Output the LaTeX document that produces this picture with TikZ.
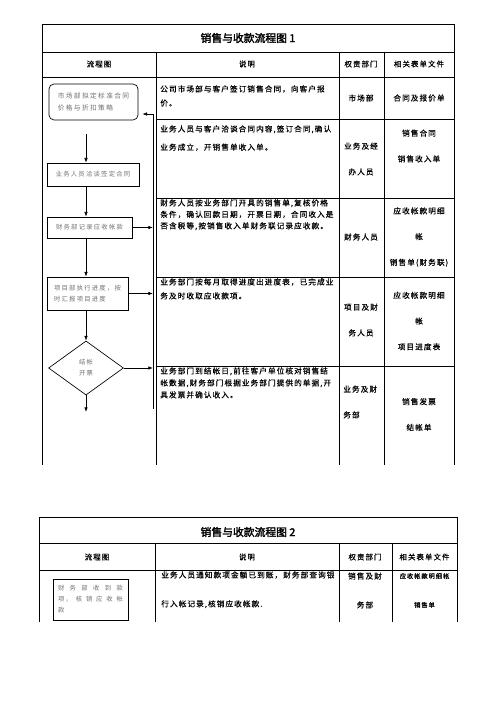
\documentclass[tikz,border=0pt]{standalone}
\usepackage{fontspec}
\usepackage{tikz}
\usetikzlibrary{arrows.meta,positioning,calc,shapes.geometric}
\newfontfamily\hei[LetterSpace=14,FakeBold=0.4]{Noto Sans CJK SC}
\newfontfamily\heibold[FakeBold=2.2]{Noto Sans CJK SC}
\newfontfamily\boxfont[LetterSpace=20]{Noto Sans CJK SC}
\definecolor{flowInk}{HTML}{000000}
\definecolor{flowGray}{HTML}{707070}
\tikzset{
  tabline/.style={draw=flowInk,line width=0.8pt},
  flowbox/.style={draw=flowInk,line width=0.8pt,inner sep=0pt,align=left,text=flowGray,
                  font=\boxfont\fontsize{7.6}{13.2}\selectfont},
  desc/.style={anchor=north west,inner sep=0pt,align=left,font=\hei\fontsize{9.2}{#1}\selectfont},
  cell/.style={inner sep=0pt,align=center,font=\hei\fontsize{9.2}{31}\selectfont},
  headcell/.style={inner sep=0pt,font=\hei\fontsize{9}{11}\selectfont},
  titlecell/.style={inner sep=0pt,font=\heibold\fontsize{13}{15}\selectfont},
}
\begin{document}
\begin{tikzpicture}[x=0.4233mm,y=-0.4233mm,>={Latex[length=2mm,width=1.5mm]},line width=0.8pt]
  \useasboundingbox (0,0) rectangle (496,702);

  % table 1
  \draw[tabline] (42,465) -- (42,24) -- (454,24) -- (454,465);
  \draw[tabline] (42,52) -- (454,52) (42,77) -- (454,77);
  \foreach \x in {156,339,384} \draw[tabline] (\x,52) -- (\x,465);
  \foreach \y in {119,198,277,366} \draw[tabline] (156,\y) -- (454,\y);

  \node[titlecell] (title1) at (248,38) {销售与收款流程图 1};
  \node[headcell] (hflow1) at (99,64) {流程图};
  \node[headcell] (hdesc1) at (247,64) {说明};
  \node[headcell] (hdept1) at (361,64) {权责部门};
  \node[headcell] (hdocs1) at (419,64) {相关表单文件};

  % flow column
  \node[flowbox,rounded corners=6pt,minimum width=37.7mm,minimum height=15.2mm,
        font=\boxfont\fontsize{8.1}{14}\selectfont] (mkt) at (93.5,102) {市场部拟定标准合同\\价格与折扣策略};
  \node[flowbox,minimum width=38.9mm,minimum height=9.7mm] (talk) at (93,174.5) {业务人员洽谈签定合同};
  \node[flowbox,minimum width=36mm,minimum height=8.9mm] (book) at (89.5,227.5) {财务部记录应收帐款};
  \node[flowbox,minimum width=34.3mm,minimum height=14mm] (proj) at (87.5,293.5) {项目部执行进度，按\\时汇报项目进度};
  \node[flowbox,diamond,align=center,minimum width=31.7mm,minimum height=22.9mm] (bill) at (86,368) {结帐\\开票};

  \coordinate (spine) at (86,0);
  \coordinate (billEnd) at (86,412);
  \coordinate (loopTop) at (153,114);
  \coordinate (loopBot) at (153,409);

  \draw[->] ($(mkt.south -| spine)+(0,14)$) -- (talk.north -| spine);
  \draw[->] (talk.south -| spine) -- (book.north -| spine);
  \draw[->] (book.south -| spine) -- (proj.north -| spine);
  \draw[->] (proj.south -| spine) -- (bill.north);
  \draw[->] (bill.south) -- (billEnd);
  \draw[->] (book.east) -- (book.east -| loopTop);
  \draw[->] (proj.east) -- (proj.east -| loopTop);
  \draw[->] (bill.east) -- (bill.east -| loopTop);
  \draw (loopBot) -- (loopTop);
  \draw[->,shorten >=1.7mm] (loopTop) -- (loopTop -| mkt.east);

  % description column
  \node[desc=17pt] (d1) at (160,85) {公司市场部与客户签订销售合同，向客户报\\价。};
  \node[desc=22pt] (d2) at (160,125) {业务人员与客户洽谈合同内容,签订合同,确认\\业务成立，开销售单收入单。};
  \node[desc=13.8pt] (d3) at (160,199) {财务人员按业务部门开具的销售单,复核价格\\条件，确认回款日期，开票日期，合同收入是\\否含税等,按销售收入单财务联记录应收款。};
  \node[desc=16.8pt] (d4) at (160,278) {业务部门按每月取得进度出进度表，已完成业\\务及时收取应收款项。};
  \node[desc=14.4pt] (d5) at (160,367) {业务部门到结帐日,前往客户单位核对销售结\\帐数据,财务部门根据业务部门提供的单据,开\\具发票并确认收入。};

  % department and form columns
  \node[cell] (p1) at (361,98) {市场部};
  \node[cell] (p2) at (361,159) {业务及经\\办人员};
  \node[cell] (p3) at (361,237) {财务人员};
  \node[cell] (p4) at (361,320) {项目及财\\务人员};
  \node[cell,anchor=west,align=left] (p5) at (343,402) {业务及财\\务部};
  \node[cell] (f1) at (419,98) {合同及报价单};
  \node[cell] (f2) at (419,146) {销售合同\\销售收入单};
  \node[cell] (f3) at (419,237) {应收帐款明细\\帐\\销售单(财务联)};
  \node[cell] (f4) at (419,321) {应收帐款明细\\帐\\项目进度表};
  \node[cell] (f5) at (419,414.5) {销售发票\\结帐单};

  % table 2
  \draw[tabline] (39,622) -- (39,517) -- (457,517) -- (457,622);
  \draw[tabline] (39,543) -- (457,543) (39,570) -- (457,570);
  \foreach \x in {155,339,392} \draw[tabline] (\x,543) -- (\x,622);

  \node[titlecell] (title2) at (248,532) {销售与收款流程图 2};
  \node[headcell] (hflow2) at (97,557) {流程图};
  \node[headcell] (hdesc2) at (247,557) {说明};
  \node[headcell] (hdept2) at (365,557) {权责部门};
  \node[headcell] (hdocs2) at (424.5,557) {相关表单文件};

  \node[flowbox,minimum width=31.7mm,minimum height=17.4mm] (cash) at (90.5,599.5)
       {\makebox[27.5mm][s]{财 务 部 收 到 款}\\\makebox[27.5mm][s]{项， 核 销 应 收 帐}\\款};
  \node[desc=34.8pt] (d6) at (161,571) {业务人员通知款项金额已到账，财务部查询银\\行入帐记录,核销应收帐款.};
  \node[cell,font=\hei\fontsize{9.2}{34.8}\selectfont] (p6) at (365,590.5) {销售及财\\务部};
  \node[cell,font=\hei\fontsize{7.6}{34.8}\selectfont] (f6) at (424.5,590.5) {应收帐款明细帐\\销售单};
\end{tikzpicture}
\end{document}
